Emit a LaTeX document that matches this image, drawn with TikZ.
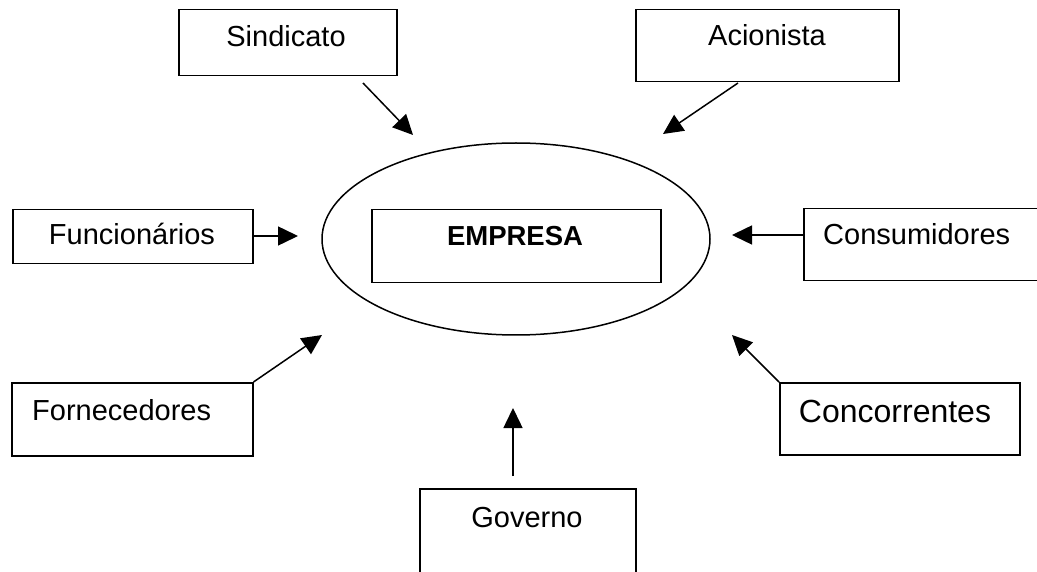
\documentclass[tikz,border=0pt]{standalone}
\usepackage{fontspec}
\setmainfont{Liberation Sans}
\usetikzlibrary{arrows.meta,shapes.geometric}
\tikzset{
  box/.style={draw, line width=1.5pt, rectangle, inner sep=0pt, anchor=north west},
  txt/.style={inner sep=0pt, font=\fontsize{29}{34}\selectfont},
  con/.style={line width=1.5pt, -{Triangle[length=20pt,width=19pt]}},
}
\begin{document}
\begin{tikzpicture}[x=1pt,y=-1pt]
\clip (0,0) rectangle (1037,572);
\fill[white] (0,0) rectangle (1037,572);
% central ellipse and box
\node[draw, line width=1.5pt, ellipse, minimum width=388pt, minimum height=192pt, inner sep=0pt] (ell) at (516,239) {};
\node[box, minimum width=289pt, minimum height=73pt] (emp) at (371,209) {};
\node[inner sep=0pt, anchor=base, font=\fontsize{27.5}{32}\selectfont\bfseries] (empT) at (515,246) {EMPRESA};
% stakeholder boxes
\node[box, minimum width=218pt, minimum height=66pt] (sind) at (178,9) {};
\node[txt, anchor=base] (sindT) at (286,47) {Sindicato};
\node[box, minimum width=263pt, minimum height=72pt] (acio) at (635,9) {};
\node[txt, anchor=base] (acioT) at (767,46) {Acionista};
\node[box, minimum width=240pt, minimum height=54pt] (func) at (12,209) {};
\node[txt, anchor=base] (funcT) at (132,245) {Funcionários};
\node[box, minimum width=250pt, minimum height=72pt] (cons) at (803,208) {};
\node[txt, anchor=base west] (consT) at (823,245) {Consumidores};
\node[box, minimum width=241pt, minimum height=73pt] (forn) at (11,382) {};
\node[txt, anchor=base west] (fornT) at (32,420) {Fornecedores};
\node[box, minimum width=240pt, minimum height=72pt] (conc) at (779,382) {};
\node[txt, anchor=base, font=\fontsize{32}{38}\selectfont] (concT) at (895,422) {Concorrentes};
\node[box, minimum width=216pt, minimum height=110pt] (gov) at (419,488) {};
\node[txt, anchor=base] (govT) at (527,527) {Governo};
% connector ends
\coordinate (sindS) at (363,83);
\coordinate (sindE) at (413,135);
\coordinate (acioS) at (738,83);
\coordinate (acioE) at (663,134);
\coordinate (funcS) at (252,236);
\coordinate (funcE) at (298,236);
\coordinate (consS) at (803,235);
\coordinate (consE) at (732,235);
\coordinate (fornE) at (322,335);
\coordinate (concE) at (732,335);
\coordinate (govS) at (513,476);
\coordinate (govE) at (513,408);
% connectors
\draw[con] (sindS) -- (sindE);
\draw[con] (acioS) -- (acioE);
\draw[con] (funcS) -- (funcE);
\draw[con] (consS) -- (consE);
\draw[con] (forn.north east) -- (fornE);
\draw[con] (conc.north west) -- (concE);
\draw[con] (govS) -- (govE);
\end{tikzpicture}
\end{document}
